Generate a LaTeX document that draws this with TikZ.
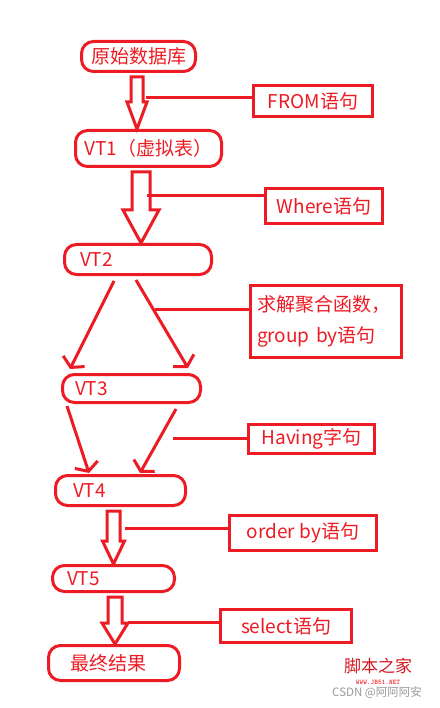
\documentclass[tikz,border=0pt]{standalone}
\usepackage{fontspec}
\setmainfont{Noto Sans CJK SC}
\usepackage{tikz}
\usetikzlibrary{calc,arrows.meta}
\definecolor{redc}{HTML}{ED1C24}
\definecolor{wmgray}{HTML}{9A9A9A}
\tikzset{
  stage/.style={draw=redc,line width=3pt,rounded corners=12pt,text=redc,font=\fontsize{19}{23}\selectfont,inner ysep=0pt},
  clause/.style={draw=redc,line width=3pt,text=redc,font=\fontsize{19}{23}\selectfont,inner sep=0pt},
  lk/.style={draw=redc,line width=3pt},
  ar/.style={lk,-{Straight Barb[length=7pt,width=24pt]}},
  fatar/.style={draw=redc,line width=3pt,line join=miter}
}
\newcommand{\fatarrow}[6]{\draw[fatar] let \p1=(#1.south), \p2=(#2.north) in
  (#3-#4,\y1-4pt) -- (#3-#4,\y2+#6pt) -- (#3-#5,\y2+#6pt) -- (#3,\y2) -- (#3+#5,\y2+#6pt) -- (#3+#4,\y2+#6pt) -- (#3+#4,\y1-4pt) -- cycle;}
\begin{document}
\begin{tikzpicture}[x=1pt,y=-1pt]
\useasboundingbox[fill=white] (0,0) rectangle (439,708);
\node[stage,minimum width=114pt,minimum height=30pt] (src) at (138.5,56.5) {原始数据库};
\node[stage,minimum width=146pt,minimum height=36pt] (vt1) at (148.5,148.5) {VT1（虚拟表）};
\node[stage,minimum height=30pt,text width=116pt,inner xsep=15.5pt,align=left] (vt2) at (138,259.5) {VT2};
\node[stage,minimum height=28pt,text width=113pt,inner xsep=12.5pt,align=left] (vt3) at (131.5,388.5) {VT3};
\node[stage,minimum height=30pt,text width=95pt,inner xsep=17.5pt,align=left] (vt4) at (120.5,490.5) {VT4};
\node[stage,minimum height=26pt,text width=93pt,inner xsep=14.5pt,align=left] (vt5) at (113.5,578.5) {VT5};
\node[stage,minimum height=35pt,text width=88pt,inner xsep=21.5pt,align=left] (res) at (114,663) {最终结果};
\node[clause,minimum width=119pt,minimum height=31pt] (from) at (313,101) {FROM语句};
\node[clause,minimum width=117pt,minimum height=35pt] (where) at (324,206) {Where语句};
\node[clause,minimum height=72pt,text width=138pt,inner xsep=6.5pt,align=left,font=\fontsize{19}{31}\selectfont] (agg) at (326,321.5) {求解聚合函数，\\group by语句};
\node[clause,minimum width=126pt,minimum height=29pt] (hav) at (311.5,439) {Having字句};
\node[clause,minimum width=147pt,minimum height=35pt] (ord) at (303,533) {order by语句};
\node[clause,minimum width=131pt,minimum height=33pt] (sel) at (286,626) {select语句};
\fatarrow{src}{vt1}{137}{6}{10}{27}
\fatarrow{vt1}{vt2}{141}{9}{18}{33}
\fatarrow{vt4}{vt5}{113.5}{6.5}{11}{23}
\fatarrow{vt5}{res}{115}{7}{13}{21}
\draw[ar] ($(vt2.south west)+(51,5)$) -- ($(vt3.north west)+(9,-4)$);
\draw[ar] ($(vt2.south west)+(73,4)$) -- ($(vt3.north west)+(127,-5)$);
\draw[ar] ($(vt3.south west)+(6,2)$) -- ($(vt4.north west)+(35,-1)$);
\draw[ar] ($(vt3.south west)+(115,5)$) -- ($(vt4.north west)+(86,-1)$);
\coordinate (f1) at (146,98);
\coordinate (f2) at (147,196);
\coordinate (f3) at (155,309);
\coordinate (f4) at (173,438);
\coordinate (f5) at (125,528);
\coordinate (f6) at (128,622);
\draw[lk] (f1) -- (f1 -| from.west);
\draw[lk] (f2) -- (f2 -| where.west);
\draw[lk] (f3) -- (f3 -| agg.west);
\draw[lk] (f4) -- (f4 -| hav.west);
\draw[lk] (f5) -- (f5 -| ord.west);
\draw[lk] (f6) -- (f6 -| sel.west);
\node[text=redc!90!black,font=\fontsize{17}{17}\selectfont,inner sep=0pt] (wm1) at (378,666) {脚本之家};
\node[text=redc,font=\fontsize{7}{7}\ttfamily\bfseries,inner sep=0pt] (wm2) at (378,682) {WWW.JB51.NET};
\node[text=wmgray,font=\fontsize{11.5}{11.5}\selectfont,inner sep=0pt] (wm3) at (377,693) {CSDN @阿阿阿安};
\end{tikzpicture}
\end{document}
